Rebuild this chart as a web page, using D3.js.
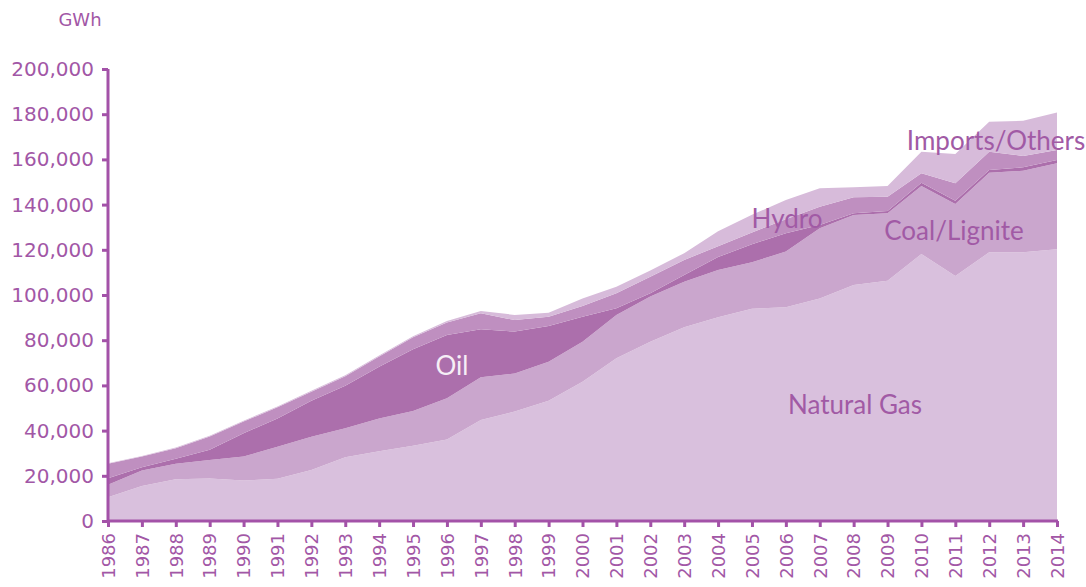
<!DOCTYPE html>
<html><head><meta charset="utf-8">
<script src="https://cdn.jsdelivr.net/npm/d3@7"></script>
<style>body{margin:0;background:#fff}svg{display:block}</style>
</head><body>
<svg id="c" width="1086" height="587"></svg>
<script>
const years = [1986,1987,1988,1989,1990,1991,1992,1993,1994,1995,1996,1997,1998,1999,2000,2001,2002,2003,2004,2005,2006,2007,2008,2009,2010,2011,2012,2013,2014];
const naturalGas = [10500,15500,18500,18800,17900,18700,22600,28200,30900,33300,36100,44700,48400,53200,61600,72000,79300,85700,90200,93900,94600,98500,104400,106300,118100,108400,118900,118900,120200];
const coalLignite = [5500,6800,6800,8200,10600,14200,14700,12800,14500,15400,18200,18900,16900,17300,17700,19200,20000,20200,20900,20600,24600,31000,31000,29900,30100,31900,35200,36100,38100];
const oil = [2900,1500,2200,4500,10300,12500,15900,18800,22800,27300,28000,21200,18500,15800,11100,2900,1500,3000,5700,8000,8100,1500,800,1000,1500,1400,1200,1500,1400];
const hydro = [6400,4700,4700,5900,5200,4900,4000,4300,4600,5300,5500,7100,5100,4100,4700,6700,7300,6600,4800,5200,6200,8100,7000,6300,4200,7700,8100,5000,4500];
const importsOthers = [300,300,300,300,400,400,400,400,400,500,700,1000,2300,1800,3400,2900,2700,3000,6600,7800,8500,8100,4500,4700,9500,13000,13300,15600,16500];
const yTicks = [0,20000,40000,60000,80000,100000,120000,140000,160000,180000,200000];
const seriesNames = ["Natural Gas","Coal/Lignite","Oil","Hydro","Imports/Others"];
const colors = ["#d9c0dd","#caa6cd","#ac6fac","#bf8fc0","#d7bbda"];

const rows = years.map((y,i)=>({year:y,"Natural Gas":naturalGas[i],"Coal/Lignite":coalLignite[i],"Oil":oil[i],"Hydro":hydro[i],"Imports/Others":importsOthers[i]}));

const svg = d3.select("#c");
const axisColor = "#a352a8", textColor = "#a257a6";
const x = d3.scaleLinear().domain([1986,2014]).range([108,1057]);
const y = d3.scaleLinear().domain([0,200000]).range([521,69]);

const stack = d3.stack().keys(seriesNames)(rows);
const area = d3.area().x(d=>x(d.data.year)).y0(d=>y(d[0])).y1(d=>y(d[1]));
svg.append("g").selectAll("path").data(stack).join("path")
  .attr("d",area).attr("fill",(d,i)=>colors[i]);

// y axis
const ya = svg.append("g").attr("transform","translate(108,0)")
  .call(d3.axisLeft(y).tickValues(yTicks).tickSize(6).tickPadding(8).tickFormat(d3.format(",")));
ya.select(".domain").attr("stroke",axisColor).attr("stroke-width",3).attr("d","M0,69V522");
ya.selectAll(".tick line").attr("stroke",axisColor).attr("stroke-width",3);
ya.selectAll(".tick text").attr("fill",textColor).attr("font-family","DejaVu Sans").attr("font-size",20);

// x axis
const xa = svg.append("g").attr("transform","translate(0,521)")
  .call(d3.axisBottom(x).tickValues(years).tickSize(6).tickPadding(6).tickFormat(d3.format("d")));
xa.select(".domain").attr("stroke",axisColor).attr("stroke-width",3).attr("d","M107,0H1058");
xa.selectAll(".tick line").attr("stroke",axisColor).attr("stroke-width",3);
xa.selectAll(".tick text").attr("fill",textColor).attr("font-family","DejaVu Sans").attr("font-size",18)
  .attr("transform","rotate(-90)").attr("text-anchor","end").attr("x",-12).attr("y",0).attr("dy","0.35em");

svg.append("text").attr("x",80).attr("y",26).attr("text-anchor","middle")
  .attr("fill",textColor).attr("font-family","DejaVu Sans").attr("font-size",18).text("GWh");

const labels = [
  {t:"Oil",x:452,y:375,c:"#f6eef6"},
  {t:"Natural Gas",x:855,y:414,c:"#a15aa5"},
  {t:"Hydro",x:787,y:228,c:"#a15aa5"},
  {t:"Coal/Lignite",x:954,y:240,c:"#a15aa5"},
  {t:"Imports/Others",x:996,y:150,c:"#a15aa5"}
];
svg.append("g").selectAll("text").data(labels).join("text")
  .attr("x",d=>d.x).attr("y",d=>d.y).attr("text-anchor","middle")
  .attr("fill",d=>d.c).attr("font-family","Lato").attr("font-size",26).text(d=>d.t);
</script>
</body></html>
